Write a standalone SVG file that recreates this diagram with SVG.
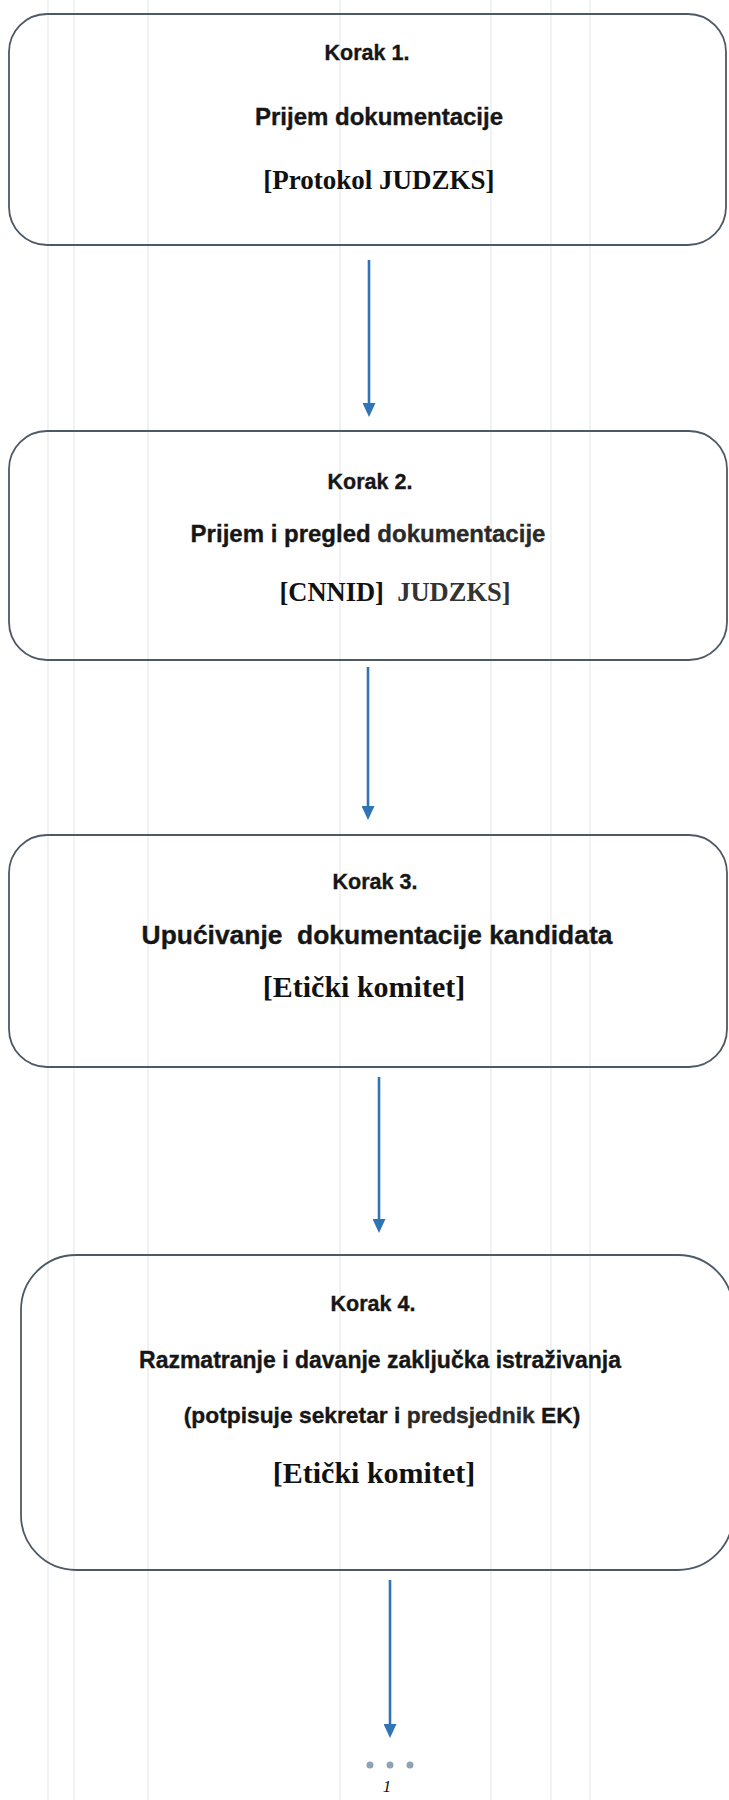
<svg xmlns="http://www.w3.org/2000/svg" width="729" height="1800" viewBox="0 0 729 1800">
<defs>
<style>
.bg{stroke:#e3e5e8;stroke-width:1;}
.box{fill:none;stroke:#4d5965;stroke-width:1.8;}
.sans{font-family:"Liberation Sans",Arial,sans-serif;font-weight:bold;fill:#161616;stroke:#161616;stroke-width:0.35;text-anchor:middle;}
.serif{font-family:"Liberation Serif","Times New Roman",serif;font-weight:bold;fill:#111;text-anchor:middle;}
.conn{stroke:#2f74b5;stroke-width:2.6;fill:none;}
.dot{fill:#8fa3b8;}
</style>
<marker id="ah" markerUnits="userSpaceOnUse" markerWidth="14" markerHeight="13" viewBox="0 0 14 13" refX="4" refY="6.5" orient="auto">
<path d="M0,0 L14,6.5 L0,13 Z" fill="#2f74b5"/>
</marker>
</defs>
<rect width="729" height="1800" fill="#ffffff"/>
<g id="background-lines">
<line class="bg" x1="48" y1="0" x2="48" y2="1800"/>
<line class="bg" x1="74" y1="0" x2="74" y2="1800"/>
<line class="bg" x1="148" y1="0" x2="148" y2="1800"/>
<line class="bg" x1="340" y1="0" x2="340" y2="1800"/>
<line class="bg" x1="491" y1="0" x2="491" y2="1800"/>
<line class="bg" x1="551" y1="0" x2="551" y2="1800"/>
<line class="bg" x1="590" y1="0" x2="590" y2="1800"/>
</g>
<g id="connectors">
<line class="conn" x1="369" y1="260" x2="369" y2="407" marker-end="url(#ah)"/>
<line class="conn" x1="368" y1="667" x2="368" y2="810" marker-end="url(#ah)"/>
<line class="conn" x1="379" y1="1077" x2="379" y2="1223" marker-end="url(#ah)"/>
<line class="conn" x1="390" y1="1580" x2="390" y2="1728" marker-end="url(#ah)"/>
</g>
<g id="step1">
<rect class="box" x="9" y="14" width="717" height="231" rx="38" ry="38"/>
<text class="sans" x="367" y="60" font-size="21.5">Korak 1.</text>
<text class="sans" x="379" y="125" font-size="24">Prijem dokumentacije</text>
<text class="serif" x="379" y="189" font-size="27">[Protokol JUDZKS]</text>
</g>
<g id="step2">
<rect class="box" x="9" y="431" width="718" height="229" rx="38" ry="38"/>
<text class="sans" x="370" y="489" font-size="21.5">Korak 2.</text>
<text class="sans" x="368" y="542" font-size="24">Prijem i pregled <tspan fill="#2a2a2a" stroke="#2a2a2a">dokumentacije</tspan></text>
<text class="serif" x="395" y="601" font-size="26.5" xml:space="preserve">[CNNID]  <tspan fill="#333">JUDZKS]</tspan></text>
</g>
<g id="step3">
<rect class="box" x="9" y="835" width="718" height="232" rx="38" ry="38"/>
<text class="sans" x="375" y="889" font-size="21.5">Korak 3.</text>
<text class="sans" x="377" y="944" font-size="26.4" xml:space="preserve">Upućivanje  dokumentacije kandidata</text>
<text class="serif" x="364" y="997" font-size="30">[Etički komitet]</text>
</g>
<g id="step4">
<rect class="box" x="21" y="1255" width="712" height="315" rx="55" ry="55"/>
<text class="sans" x="373" y="1311" font-size="21.5">Korak 4.</text>
<text class="sans" x="380" y="1368" font-size="23">Razmatranje i davanje zaključka istraživanja</text>
<text class="sans" x="382" y="1423" font-size="22.8">(potpisuje sekretar i <tspan fill="#2a2a2a" stroke="#2a2a2a">predsjednik</tspan> EK)</text>
<text class="serif" x="374" y="1483" font-size="30">[Etički komitet]</text>
</g>
<g id="continuation">
<circle class="dot" cx="370" cy="1765" r="3.5"/>
<circle class="dot" cx="390" cy="1765" r="3.5"/>
<circle class="dot" cx="410" cy="1765" r="3.5"/>
<text x="387" y="1792" font-family="'Liberation Serif','Times New Roman',serif" font-style="italic" font-size="17" fill="#111" text-anchor="middle">1</text>
</g>
</svg>
